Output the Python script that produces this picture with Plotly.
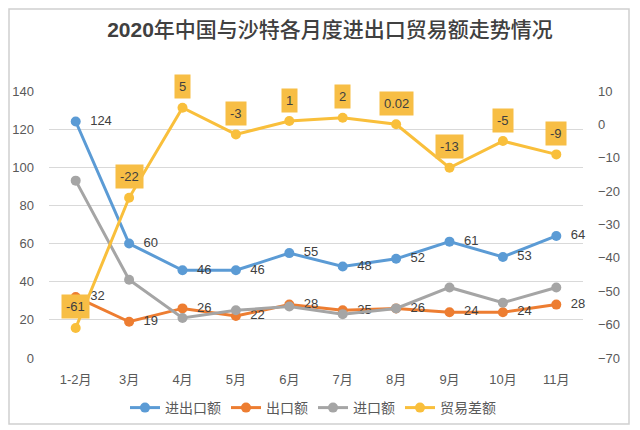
import plotly.graph_objects as go

months = ["1-2月", "3月", "4月", "5月", "6月", "7月", "8月", "9月", "10月", "11月"]
total = [124, 60, 46, 46, 55, 48, 52, 61, 53, 64]
exports = [32, 19, 26, 22, 28, 25, 26, 24, 24, 28]
imports = [93, 41, 21, 25, 27, 23, 26, 37, 29, 37]
balance = [-61, -22, 5, -3, 1, 2, 0.02, -13, -5, -9]
balance_labels = ["-61", "-22", "5", "-3", "1", "2", "0.02", "-13", "-5", "-9"]

FONT = "Liberation Sans, Arial, Noto Sans CJK SC, sans-serif"
BLUE, ORANGE, GRAY, YELLOW = "#5B9BD5", "#ED7D31", "#A5A5A5", "#F9BF3B"
TXT = "#404040"
PAD = "\u00a0\u00a0"

W, H = 632, 422
ML, MR, MT, MB = 41, 57, 83, 72
PW, PH = W - ML - MR, H - MT - MB

fig = go.Figure()
fig.add_trace(go.Scatter(x=months, y=total, name="进出口额", mode="lines+markers+text",
                         line=dict(color=BLUE, width=3), marker=dict(size=10, color=BLUE),
                         text=[PAD + str(v) for v in total], textposition="middle right",
                         textfont=dict(size=13, color=TXT, family=FONT), cliponaxis=False))
fig.add_trace(go.Scatter(x=months, y=exports, name="出口额", mode="lines+markers+text",
                         line=dict(color=ORANGE, width=3), marker=dict(size=10, color=ORANGE),
                         text=[PAD + str(v) for v in exports], textposition="middle right",
                         textfont=dict(size=13, color=TXT, family=FONT), cliponaxis=False))
fig.add_trace(go.Scatter(x=months, y=imports, name="进口额", mode="lines+markers",
                         line=dict(color=GRAY, width=3), marker=dict(size=10, color=GRAY),
                         cliponaxis=False))
fig.add_trace(go.Scatter(x=months, y=balance, name="贸易差额", mode="lines+markers", yaxis="y2",
                         line=dict(color=YELLOW, width=3), marker=dict(size=10, color=YELLOW),
                         cliponaxis=False))

for m, v, t in zip(months, balance, balance_labels):
    fig.add_annotation(x=m, y=v, xref="x", yref="y2", text=t, showarrow=False,
                       yshift=21, bgcolor="#F7BE45", borderpad=4,
                       font=dict(size=13, color=TXT, family=FONT))

# outer frame (figure pixel coords -> paper coords)
def px(xp):
    return (xp - ML) / PW

def py(yp):
    return (H - MB - yp) / PH

fig.add_shape(type="rect", xref="paper", yref="paper",
              x0=px(1), x1=px(621), y0=py(416), y1=py(1),
              line=dict(color="#D0D0D0", width=1.5), layer="above")

fig.update_layout(
    width=W, height=H,
    margin=dict(l=ML, r=MR, t=MT, b=MB, autoexpand=False),
    paper_bgcolor="white", plot_bgcolor="white",
    font=dict(family=FONT, size=13, color="#595959"),
    title=dict(text="<b>2020</b>年中国与沙特各月度进出口贸易额走势情况",
               x=(330 - 8) / W, xanchor="center", y=1 - (30 - 8) / H, yanchor="middle",
               font=dict(size=21, color=TXT, family=FONT, weight=500)),
    xaxis=dict(type="category", range=[-0.5, 9.5], showgrid=False, showline=False,
               zeroline=False, automargin=False, ticks="", ticklabelstandoff=12,
               tickfont=dict(size=13, color="#595959")),
    yaxis=dict(range=[0, 140], dtick=20, showgrid=True, gridcolor="#D9D9D9", gridwidth=1,
               zeroline=False, showline=False, ticklabelstandoff=14, automargin=False,
               tickfont=dict(size=13, color="#595959")),
    yaxis2=dict(range=[-70, 10], dtick=10, overlaying="y", side="right", showgrid=False,
                zeroline=False, showline=False, ticklabelstandoff=14, automargin=False,
                tickfont=dict(size=13, color="#595959")),
    legend=dict(orientation="h", x=px(313 - 8), xanchor="center", y=py(408 - 8),
                yanchor="middle", font=dict(size=14, color="#595959"),
                bgcolor="rgba(0,0,0,0)"),
    showlegend=True,
)

fig.write_html("out.html")
